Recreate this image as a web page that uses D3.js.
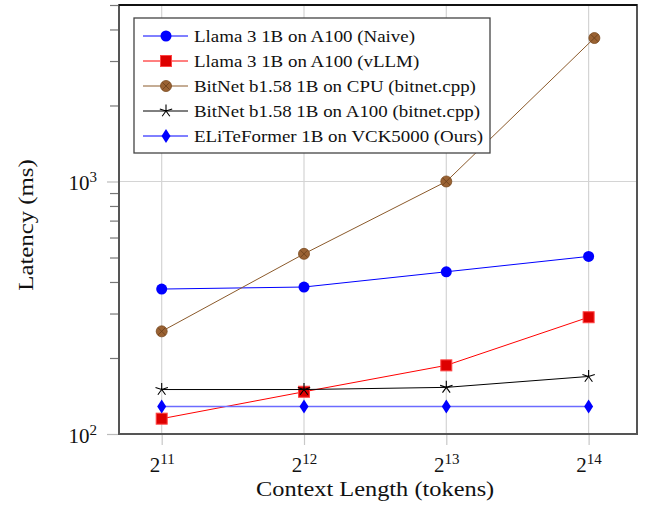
<!DOCTYPE html>
<html>
<head>
<meta charset="utf-8">
<script src="https://cdn.jsdelivr.net/npm/d3@7"></script>
<style>
  body { margin: 0; background: #fff; }
  text { font-family: "Liberation Serif", "DejaVu Serif", serif; fill: #111; }
</style>
</head>
<body>
<div id="chart"></div>
<script>
// context lengths (tokens)
const contextLengths = [2048, 4096, 8192, 16384];
const cpuContextLengths = [2048, 4096, 8192, 16850];
const xTickExponents = [11, 12, 13, 14];

// latency in ms
const llamaNaive = [375, 382, 439, 505];
const llamaVllm = [115, 147, 187, 290];
const bitnetCpu = [255, 517, 1000, 3700];
const bitnetA100 = [150, 150, 153, 169];
const eliteformer = [128.5, 128.5, 128.5, 128.5];

const seriesNames = [
  "Llama 3 1B on A100 (Naive)",
  "Llama 3 1B on A100 (vLLM)",
  "BitNet b1.58 1B on CPU (bitnet.cpp)",
  "BitNet b1.58 1B on A100 (bitnet.cpp)",
  "ELiTeFormer 1B on VCK5000 (Ours)"
];

const series = [
  { name: seriesNames[0], xs: contextLengths, ys: llamaNaive, color: "#0000ff", lineColor: "#0000ff", lw: 1, mark: "circle" },
  { name: seriesNames[1], xs: contextLengths, ys: llamaVllm, color: "#dd0000", lineColor: "#ff0000", lw: 1, mark: "square" },
  { name: seriesNames[2], xs: cpuContextLengths, ys: bitnetCpu, color: "#9a6233", lineColor: "#8b5a2b", lw: 1, mark: "otimes" },
  { name: seriesNames[3], xs: contextLengths, ys: bitnetA100, color: "#000", lineColor: "#000", lw: 1, mark: "star" },
  { name: seriesNames[4], xs: contextLengths, ys: eliteformer, color: "#0000ff", lineColor: "#6b6bff", lw: 1.6, mark: "diamond" }
];

const W = 646, H = 506;
const margin = { top: 5, right: 9, bottom: 72, left: 119 };
const width = W - margin.left - margin.right,
      height = H - margin.top - margin.bottom;

const svg = d3.select("#chart").append("svg")
  .attr("width", W)
  .attr("height", H);

const g = svg.append("g")
  .attr("transform", "translate(" + margin.left + "," + margin.top + ")");

const x = d3.scaleLog().base(2)
  .domain([Math.pow(2, 10.70), Math.pow(2, 14.34)])
  .range([0, width]);

const y = d3.scaleLog()
  .domain([100, 5000])
  .range([height, 0]);

// stretch text a bit, the original font is wider
function widen(sel, k) {
  sel.each(function () {
    const len = this.getComputedTextLength();
    d3.select(this).attr("textLength", len * k).attr("lengthAdjust", "spacingAndGlyphs");
  });
}

// grid
const gridColor = "#d4d4d4";
g.append("g").selectAll("line")
  .data(xTickExponents)
  .enter().append("line")
  .attr("x1", d => x(Math.pow(2, d))).attr("x2", d => x(Math.pow(2, d)))
  .attr("y1", 0).attr("y2", height)
  .attr("stroke", gridColor).attr("stroke-width", 1.2);

g.append("line")
  .attr("x1", 0).attr("x2", width)
  .attr("y1", y(1000)).attr("y2", y(1000))
  .attr("stroke", gridColor).attr("stroke-width", 1.2);

// x axis ticks
const xAxis = d3.axisBottom(x)
  .tickValues(xTickExponents.map(e => Math.pow(2, e)))
  .tickSize(11)
  .tickFormat("");
const gx = g.append("g").attr("transform", "translate(0," + height + ")").call(xAxis);
gx.select(".domain").remove();
gx.selectAll(".tick line").attr("stroke", "#c8c8c8").attr("stroke-width", 1.2);

gx.selectAll(".tick").append("text")
  .attr("y", 38)
  .attr("text-anchor", "middle")
  .style("font-size", "21px")
  .each(function (d) {
    const t = d3.select(this);
    t.append("tspan").text("2");
    t.append("tspan").attr("dy", -8).style("font-size", "15px").text(Math.round(Math.log2(d)));
  });

// y axis ticks (major + minor)
const minorTicks = [200, 300, 400, 500, 600, 700, 800, 900, 2000, 3000, 4000, 5000];
const yMinor = d3.axisLeft(y).tickValues(minorTicks).tickSize(8).tickFormat("");
const gyMinor = g.append("g").attr("transform", "translate(-1,0)").call(yMinor);
gyMinor.select(".domain").remove();
gyMinor.selectAll(".tick line").attr("stroke", "#777").attr("stroke-width", 1.2);

const yMajor = d3.axisLeft(y).tickValues([100, 1000]).tickSize(11).tickFormat("");
const gy = g.append("g").attr("transform", "translate(-1,0)").call(yMajor);
gy.select(".domain").remove();
gy.selectAll(".tick line").attr("stroke", "#bbb").attr("stroke-width", 1.2);
gy.selectAll(".tick").append("text")
  .attr("x", -21)
  .attr("dy", 8)
  .attr("text-anchor", "end")
  .style("font-size", "21px")
  .each(function (d) {
    const t = d3.select(this);
    t.append("tspan").text("10");
    t.append("tspan").attr("dy", -8).style("font-size", "15px").text(Math.round(Math.log10(d)));
  });

// frame
g.append("rect")
  .attr("x", 0).attr("y", 0)
  .attr("width", width).attr("height", height)
  .attr("fill", "none")
  .attr("stroke", "#555").attr("stroke-width", 2);
g.append("line").attr("x1", 0).attr("x2", width).attr("y1", 0).attr("y2", 0)
  .attr("stroke", "#111").attr("stroke-width", 2);

// markers
function drawMark(sel, mark, color) {
  if (mark === "circle") {
    sel.append("circle").attr("r", 5.5).attr("fill", color);
  } else if (mark === "square") {
    sel.append("rect").attr("x", -5.5).attr("y", -5.5).attr("width", 11).attr("height", 11)
      .attr("fill", color).attr("stroke", "#ff4444").attr("stroke-width", 1);
  } else if (mark === "otimes") {
    sel.append("circle").attr("r", 5.5).attr("fill", color).attr("stroke", "#7a4a20").attr("stroke-width", 0.8);
    sel.append("path").attr("d", "M-3.6,-3.6L3.6,3.6M-3.6,3.6L3.6,-3.6")
      .attr("stroke", "#6a3f1a").attr("stroke-width", 0.8);
  } else if (mark === "star") {
    let p = "";
    for (let i = 0; i < 5; i++) {
      const a = -Math.PI / 2 + i * 2 * Math.PI / 5;
      p += "M0,0L" + (6.5 * Math.cos(a)).toFixed(2) + "," + (6.5 * Math.sin(a)).toFixed(2);
    }
    sel.append("path").attr("d", p).attr("stroke", color).attr("stroke-width", 1.1).attr("fill", "none");
  } else if (mark === "diamond") {
    sel.append("path").attr("d", "M0,-7L4.5,0L0,7L-4.5,0Z").attr("fill", color);
  }
}

const line = d3.line()
  .x(d => x(d[0]))
  .y(d => y(d[1]));

const plot = g.append("g");
series.forEach(s => {
  const pts = s.xs.map((v, i) => [v, s.ys[i]]);
  plot.append("path")
    .datum(pts)
    .attr("d", line)
    .attr("fill", "none")
    .attr("stroke", s.lineColor)
    .attr("stroke-width", s.lw);
  plot.append("g").selectAll("g")
    .data(pts)
    .enter().append("g")
    .attr("transform", d => "translate(" + x(d[0]) + "," + y(d[1]) + ")")
    .each(function () { drawMark(d3.select(this), s.mark, s.color); });
});

// legend
const lg = svg.append("g").attr("transform", "translate(134,18)");
lg.append("rect")
  .attr("width", 356).attr("height", 135)
  .attr("fill", "#fff")
  .attr("stroke", "#444").attr("stroke-width", 1.3);
series.forEach((s, i) => {
  const row = lg.append("g").attr("transform", "translate(0," + (18 + i * 25) + ")");
  row.append("line").attr("x1", 9).attr("x2", 54).attr("y1", 0).attr("y2", 0)
    .attr("stroke", s.mark === "diamond" ? "#0000ff" : s.lineColor).attr("stroke-width", 1);
  drawMark(row.append("g").attr("transform", "translate(32,0)"), s.mark, s.color);
  row.append("text").attr("x", 60).attr("y", 6)
    .style("font-size", "17.5px")
    .text(s.name)
    .call(widen, 1.08);
});

// axis labels
svg.append("text")
  .attr("x", margin.left + x(Math.pow(2, 12.5)))
  .attr("y", 496)
  .attr("text-anchor", "middle")
  .style("font-size", "21px")
  .text("Context Length (tokens)")
  .call(widen, 1.16);

svg.append("text")
  .attr("transform", "translate(33,225) rotate(-90)")
  .attr("text-anchor", "middle")
  .style("font-size", "21px")
  .text("Latency (ms)")
  .call(widen, 1.18);
</script>
</body>
</html>
